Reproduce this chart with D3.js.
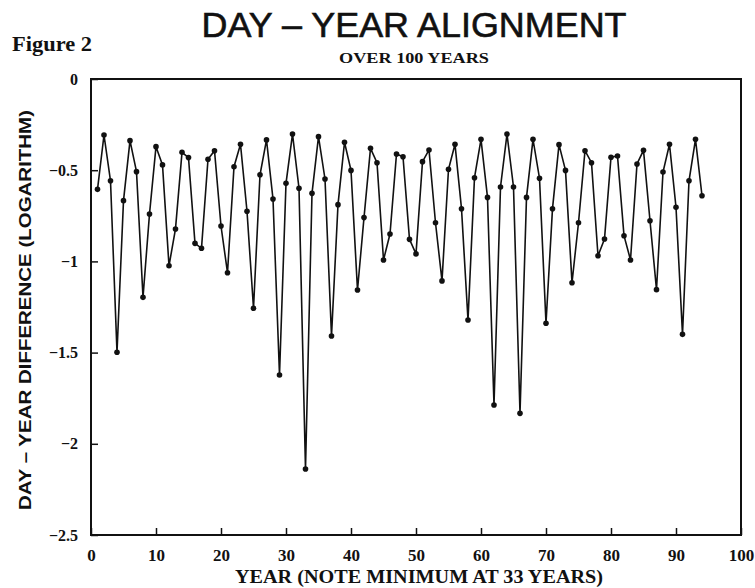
<!DOCTYPE html>
<html>
<head>
<meta charset="utf-8">
<script src="https://cdn.jsdelivr.net/npm/d3@7"></script>
<style>
  body { margin: 0; background: #fff; }
  svg text { fill: #111; }
  .serif { font-family: "Liberation Serif", "Times New Roman", serif; font-weight: bold; }
</style>
</head>
<body>
<div id="graph"></div>
<script>
// chart data
const years = d3.range(1, 95);
const diffs = [
  -0.605, -0.307, -0.558, -1.498, -0.667, -0.338, -0.508, -1.197, -0.740, -0.371,
  -0.471, -1.024, -0.822, -0.402, -0.431, -0.901, -0.928, -0.440, -0.393, -0.806,
  -1.062, -0.481, -0.358, -0.725, -1.257, -0.525, -0.334, -0.658, -1.623, -0.572,
  -0.302, -0.599, -2.138, -0.627, -0.316, -0.548, -1.409, -0.689, -0.347, -0.501,
  -1.157, -0.760, -0.380, -0.459, -0.992, -0.850, -0.411, -0.426, -0.879, -0.959,
  -0.453, -0.389, -0.788, -1.107, -0.495, -0.358, -0.711, -1.321, -0.541, -0.331,
  -0.649, -1.787, -0.592, -0.302, -0.592, -1.833, -0.649, -0.331, -0.544, -1.339,
  -0.711, -0.360, -0.501, -1.117, -0.788, -0.393, -0.459, -0.969, -0.877, -0.429,
  -0.422, -0.859, -0.992, -0.466, -0.391, -0.777, -1.155, -0.510, -0.358, -0.703,
  -1.400, -0.558, -0.331, -0.640
];
const xTicks = [0, 10, 20, 30, 40, 50, 60, 70, 80, 90, 100];
const yTicks = [0, -0.5, -1, -1.5, -2, -2.5];
const yTickLabels = ["0", "\u22120.5", "\u22121", "\u22121.5", "\u22122", "\u22122.5"];

const width = 755, height = 588;
const margin = {top: 79, right: 14, bottom: 53, left: 91};
const w = width - margin.left - margin.right;
const h = height - margin.top - margin.bottom;

let data = years.map((y, i) => ({year: y, value: diffs[i]}));

let svg = d3.select("#graph")
    .append("svg")
    .attr("width", width)
    .attr("height", height);

let g = svg.append("g")
    .attr("transform", `translate(${margin.left}, ${margin.top})`);

let x = d3.scaleLinear().domain([0, 100]).range([0, w]);
let y = d3.scaleLinear().domain([-2.5, 0]).range([h, 0]);

// frame
g.append("rect")
    .attr("width", w)
    .attr("height", h)
    .attr("fill", "none")
    .attr("stroke", "#111")
    .attr("stroke-width", 2);

// bottom axis, ticks pointing in
let xAxis = g.append("g")
    .attr("transform", `translate(0, ${h})`)
    .call(d3.axisBottom(x).tickValues(xTicks).tickSize(-7).tickPadding(14));
xAxis.select(".domain").remove();
xAxis.selectAll("line").attr("stroke", "#111").attr("stroke-width", 1.5);
xAxis.selectAll("text")
    .attr("class", "serif")
    .style("font-size", "17px")
    .attr("dy", "0.71em");

// left axis, ticks pointing in
let yAxis = g.append("g")
    .call(d3.axisLeft(y).tickValues(yTicks).tickSize(-7).tickPadding(13)
        .tickFormat((d, i) => yTickLabels[i]));
yAxis.select(".domain").remove();
yAxis.selectAll("line").attr("stroke", "#111").attr("stroke-width", 1.5);
yAxis.selectAll("text")
    .attr("class", "serif")
    .style("font-size", "16px");

// the series
let line = d3.line()
    .x(d => x(d.year))
    .y(d => y(d.value));

g.append("path")
    .datum(data)
    .attr("fill", "none")
    .attr("stroke", "#111")
    .attr("stroke-width", 1.6)
    .attr("d", line);

g.selectAll("circle")
    .data(data)
    .enter()
    .append("circle")
    .attr("cx", d => x(d.year))
    .attr("cy", d => y(d.value))
    .attr("r", 2.8)
    .attr("fill", "#111");

// titles
svg.append("text")
    .attr("x", 414)
    .attr("y", 37)
    .style("text-anchor", "middle")
    .style("font-family", "'Liberation Sans', Arial, sans-serif")
    .style("font-size", "35px")
    .style("stroke", "#111")
    .style("stroke-width", "0.6px")
    .attr("textLength", 425)
    .attr("lengthAdjust", "spacingAndGlyphs")
    .text("DAY \u2013 YEAR ALIGNMENT");

svg.append("text")
    .attr("class", "serif")
    .attr("x", 414)
    .attr("y", 63)
    .style("text-anchor", "middle")
    .style("font-size", "15px")
    .attr("textLength", 150)
    .attr("lengthAdjust", "spacingAndGlyphs")
    .text("OVER 100 YEARS");

svg.append("text")
    .attr("class", "serif")
    .attr("x", 12)
    .attr("y", 51)
    .style("font-size", "20px")
    .attr("textLength", 80)
    .attr("lengthAdjust", "spacingAndGlyphs")
    .text("Figure 2");

svg.append("text")
    .attr("class", "serif")
    .attr("x", 419)
    .attr("y", 583)
    .style("text-anchor", "middle")
    .style("font-size", "18px")
    .attr("textLength", 368)
    .attr("lengthAdjust", "spacingAndGlyphs")
    .text("YEAR (NOTE MINIMUM AT 33 YEARS)");

svg.append("text")
    .attr("transform", "translate(31, 310) rotate(-90)")
    .style("text-anchor", "middle")
    .style("font-family", "'Liberation Sans', Arial, sans-serif")
    .style("font-weight", "bold")
    .style("font-size", "17px")
    .attr("textLength", 400)
    .attr("lengthAdjust", "spacingAndGlyphs")
    .text("DAY \u2013 YEAR DIFFERENCE (LOGARITHM)");
</script>
</body>
</html>
